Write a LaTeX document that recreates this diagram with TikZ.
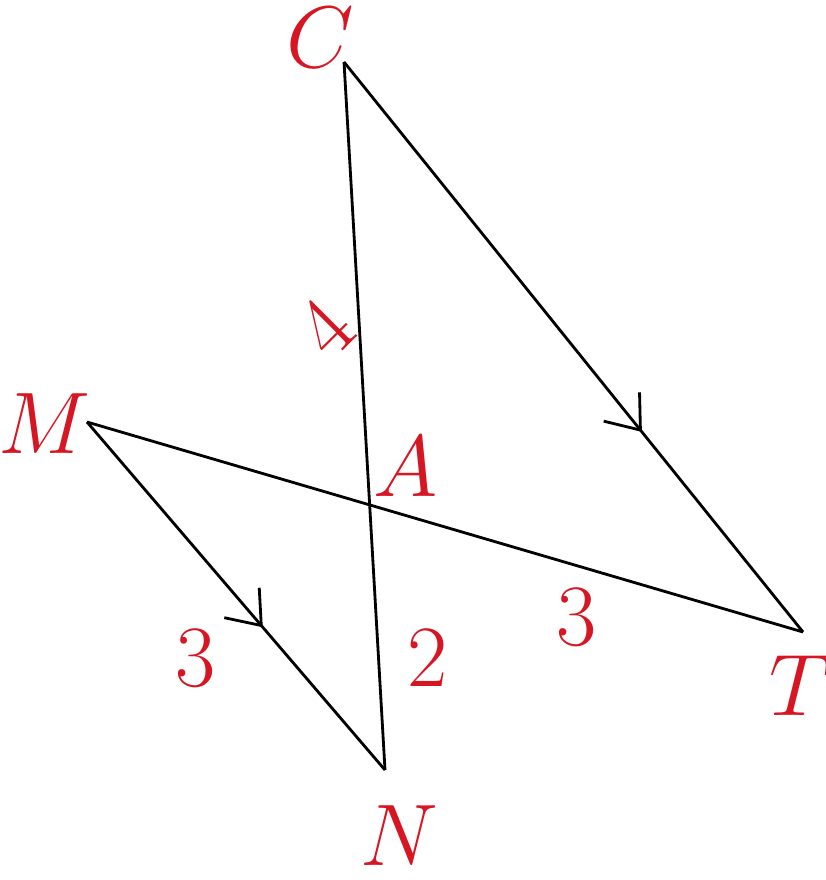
\documentclass[tikz,border=0pt]{standalone}
\usetikzlibrary{arrows.meta,decorations.markings}
\definecolor{lblred}{RGB}{214,22,34}
\begin{document}
\begin{tikzpicture}[x=0.01cm,y=-0.01cm,
  seg/.style={line width=0.8pt,black},
  lbl/.style={text=lblred,font=\fontsize{24}{28}\selectfont,inner sep=0pt},
  midarrow/.style={postaction={decorate},decoration={markings,
     mark=at position #1 with {\arrow{Straight Barb[length=3mm,width=4.6mm,line width=0.8pt]}}}}]
\useasboundingbox (0,0) rectangle (825,880);
\coordinate (C) at (344,62);
\coordinate (T) at (803,632);
\coordinate (M) at (87,422);
\coordinate (N) at (385,770);
\draw[seg] (C) -- (N);
\draw[seg] (M) -- (T);
\draw[seg,midarrow=0.649] (C) -- (T);
\draw[seg,midarrow=0.59] (M) -- (N);
\node[lbl] (lC) at (320,38) {$C$};
\node[lbl] (lM) at (45,424) {$M$};
\node[lbl] (lA) at (406,467) {$A$};
\node[lbl] (lT) at (801,686) {$T$};
\node[lbl] (lN) at (399,836) {$N$};
\node[lbl,rotate=45] (l4) at (326,328) {$4$};
\node[lbl] (l3a) at (196,658) {$3$};
\node[lbl] (l2) at (428,658) {$2$};
\node[lbl] (l3b) at (577,617) {$3$};
\end{tikzpicture}
\end{document}
